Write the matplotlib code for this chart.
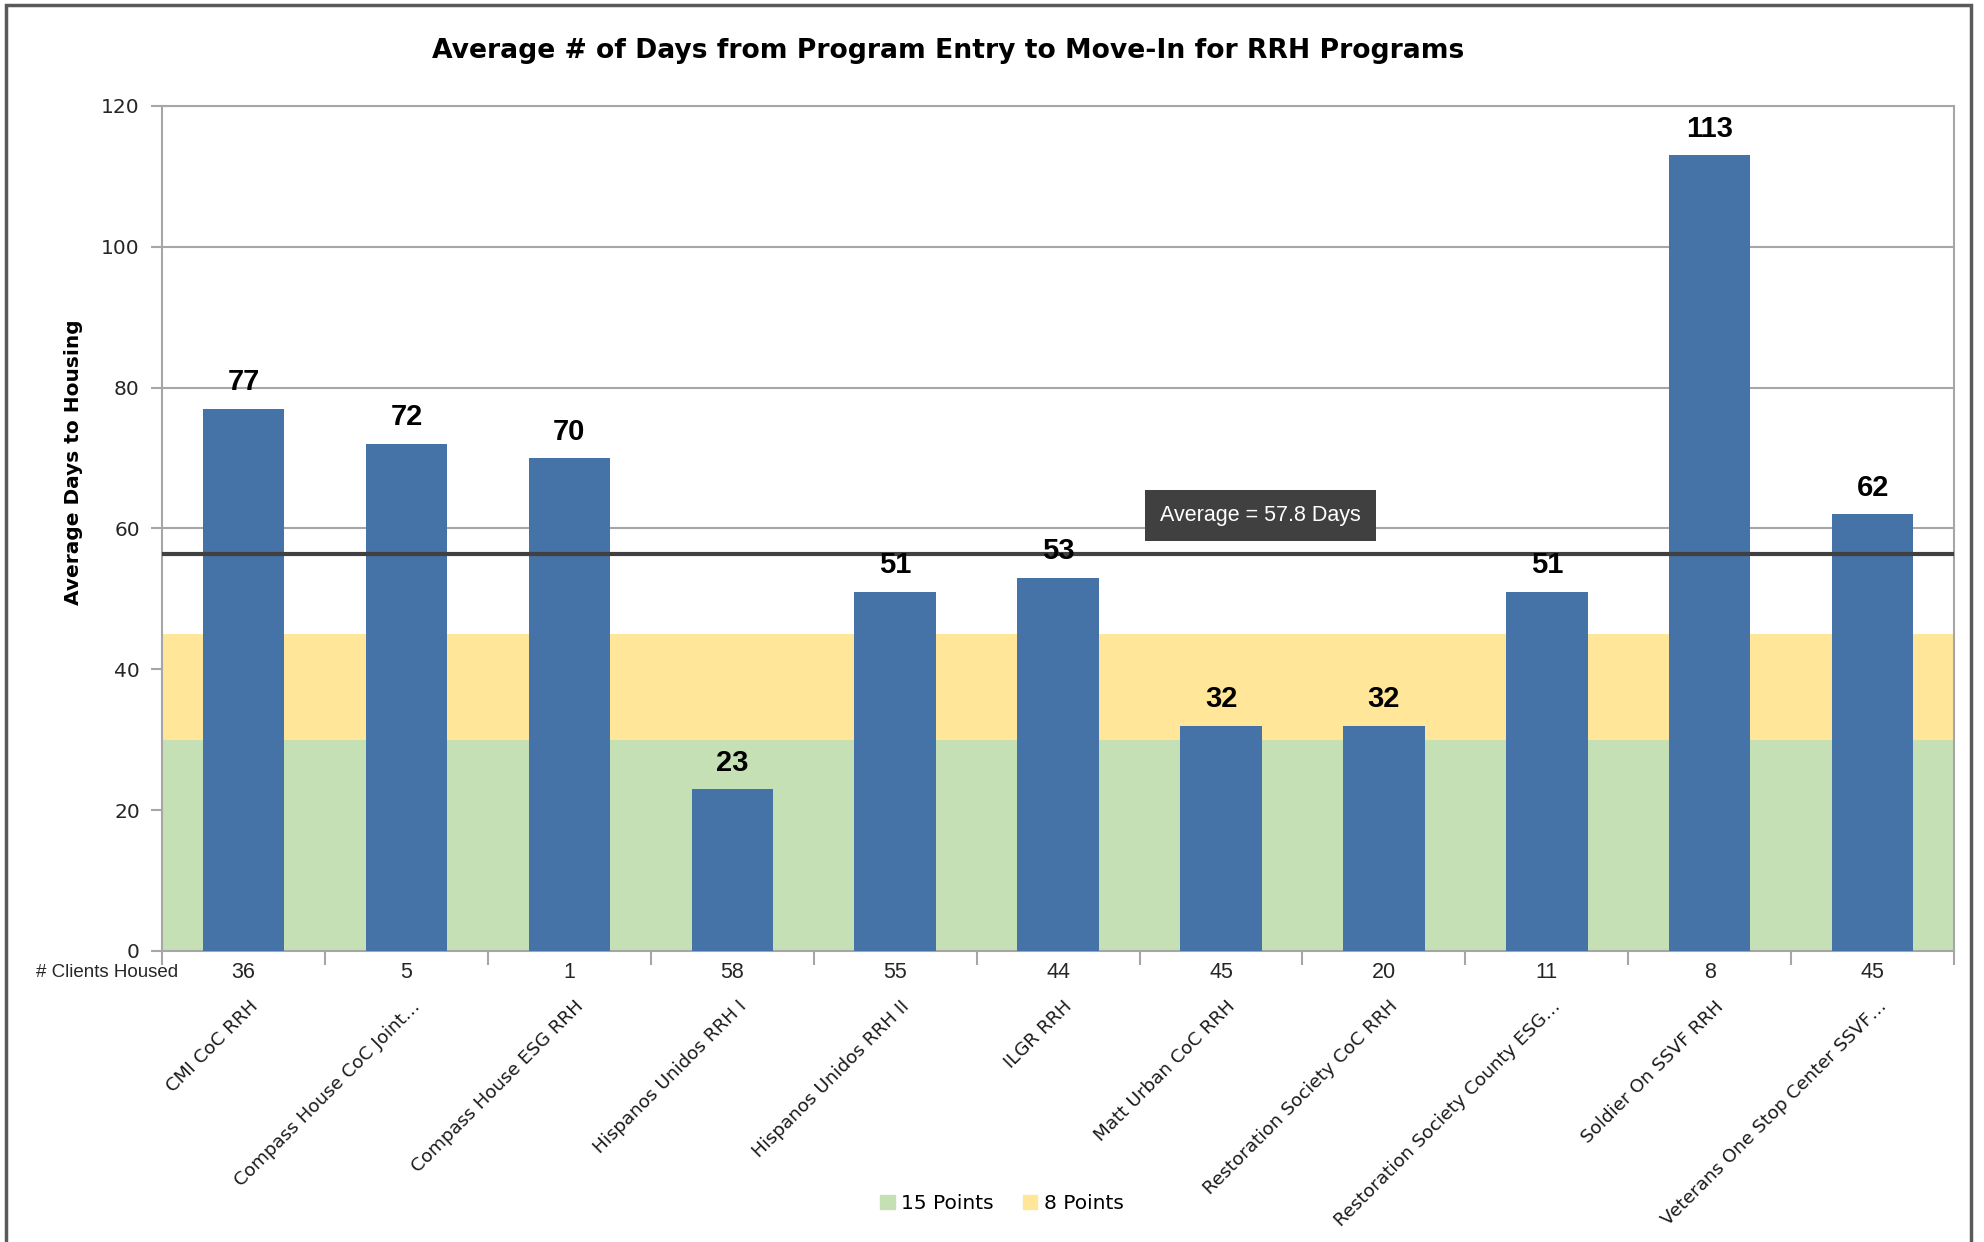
import matplotlib

matplotlib.use("Agg")
import matplotlib.pyplot as plt
from matplotlib.patches import Patch, Rectangle

programs = [
    "CMI CoC RRH",
    "Compass House CoC Joint\u2026",
    "Compass House ESG RRH",
    "Hispanos Unidos RRH I",
    "Hispanos Unidos RRH II",
    "ILGR RRH",
    "Matt Urban CoC RRH",
    "Restoration Society CoC RRH",
    "Restoration Society County ESG\u2026",
    "Soldier On SSVF RRH",
    "Veterans One Stop Center SSVF\u2026",
]
avg_days = [77, 72, 70, 23, 51, 53, 32, 32, 51, 113, 62]
clients_housed = [36, 5, 1, 58, 55, 44, 45, 20, 11, 8, 45]

band_15_points = (0, 30)
band_8_points = (30, 45)
average_line = 56.4
average_label = "Average = 57.8 Days"

BAR = "#4572A7"
GREEN = "#C5E0B4"
YELLOW = "#FFE699"
GRID = "#A6A6A6"
DARK = "#404040"

narrow = ["Liberation Sans", "DejaVu Sans"]

fig = plt.figure(figsize=(19.84, 12.42), dpi=100)
ax = fig.add_axes([0.0817, 0.2343, 0.9032, 0.6804])

x = list(range(len(programs)))
ax.axhspan(*band_15_points, color=GREEN, zorder=1, lw=0)
ax.axhspan(*band_8_points, color=YELLOW, zorder=1, lw=0)
ax.bar(x, avg_days, width=0.5, color=BAR, zorder=3)

for xi, v in zip(x, avg_days):
    ax.annotate(
        f"{v}",
        (xi, v),
        textcoords="offset points",
        xytext=(0, 9),
        ha="center",
        va="bottom",
        fontsize=21,
        fontweight="bold",
        family=narrow,
        color="black",
        zorder=6,
    )

ax.axhline(average_line, color=DARK, linewidth=3, zorder=4)
ax.text(
    6.24,
    61.8,
    average_label,
    ha="center",
    va="center",
    fontsize=15.5,
    family=narrow,
    color="white",
    zorder=6,
    bbox=dict(boxstyle="square,pad=0.7", facecolor=DARK, edgecolor="none"),
)

ax.set_xlim(-0.5, len(programs) - 0.5)
ax.set_ylim(0, 120)
ax.set_yticks(range(0, 121, 20))
ax.yaxis.grid(True, color=GRID, linewidth=1.5, zorder=0)
ax.set_axisbelow(True)
ax.tick_params(axis="y", length=8, width=1.5, color=GRID, labelsize=14.5, labelcolor="#262626", pad=8)

ax.set_xticks([i - 0.5 for i in range(len(programs) + 1)])
ax.set_xticklabels([])
ax.tick_params(axis="x", length=10, width=1.5, color=GRID)

for side in ("left", "bottom", "right", "top"):
    ax.spines[side].set_color(GRID)
    ax.spines[side].set_linewidth(1.5)

tr = ax.get_xaxis_transform()
ax.text(-0.5 + 0.1, -0.025, "# Clients Housed", transform=tr, ha="right", va="center",
        fontsize=13.5, family=narrow, color="#262626")
for xi, n in zip(x, clients_housed):
    ax.text(xi, -0.025, str(n), transform=tr, ha="center", va="center",
            fontsize=15.5, family=narrow, color="#262626")
for xi, name in zip(x, programs):
    ax.text(xi + 0.03, -0.055, name, transform=tr, ha="right", va="top",
            rotation=45, rotation_mode="anchor", fontsize=13.2, color="#1a1a1a")

fig.text(0.478, 0.959, "Average # of Days from Program Entry to Move-In for RRH Programs",
         ha="center", va="center", fontsize=19.2, fontweight="bold")
fig.text(0.037, 0.628, "Average Days to Housing", rotation=90, ha="center", va="center",
         fontsize=14.5, fontweight="bold")

handles = [Patch(color=GREEN, label="15 Points"), Patch(color=YELLOW, label="8 Points")]
fig.legend(handles=handles, loc="center", bbox_to_anchor=(0.505, 0.031), ncol=2,
           frameon=False, fontsize=14.5, handlelength=0.7, handleheight=0.7,
           handletextpad=0.3, columnspacing=1.5)

fig.patches.append(Rectangle((0.003, -0.05), 0.9905, 1.046, transform=fig.transFigure,
                             fill=False, edgecolor="#5a5a5a", linewidth=2.5))

fig.savefig("out.png", dpi=100)
